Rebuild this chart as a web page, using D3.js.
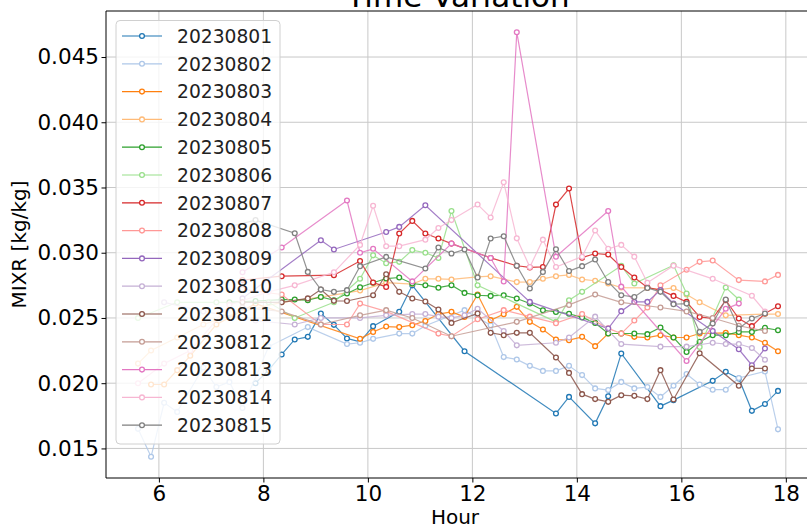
<!DOCTYPE html>
<html><head><meta charset="utf-8">
<script src="https://cdn.jsdelivr.net/npm/d3@7/dist/d3.min.js"></script>
<style>body{margin:0;background:#fff}svg{display:block}text{font-family:"DejaVu Sans",sans-serif}</style>
</head><body><svg id="c" width="807" height="528"></svg>
<script>
const title = "Time Variation";
const xLabel = "Hour";
const yLabel = "MIXR [kg/kg]";
const xTicks = [6, 8, 10, 12, 14, 16, 18];
const yTicks = [0.015, 0.020, 0.025, 0.030, 0.035, 0.040, 0.045];
const dates = ["20230801","20230802","20230803","20230804","20230805","20230806","20230807","20230808","20230809","20230810","20230811","20230812","20230813","20230814","20230815"];
const colors = ["#1f77b4","#aec7e8","#ff7f0e","#ffbb78","#2ca02c","#98df8a","#d62728","#ff9896","#9467bd","#c5b0d5","#8c564b","#c49c94","#e377c2","#f7b6d2","#7f7f7f"];

// [hour, MIXR]
const s20230801 = [[7.85,0.0200],[8.10,0.0210],[8.35,0.0222],[8.60,0.02335],[8.85,0.02355],[9.10,0.02534],[9.35,0.02447],[9.60,0.02343],[9.85,0.02317],[10.10,0.02437],[10.60,0.02547],[10.85,0.0275],[11.85,0.02245],[13.60,0.01768],[13.85,0.01895],[14.35,0.01692],[14.60,0.0190],[14.85,0.02228],[15.60,0.01824],[15.85,0.0187],[16.60,0.02018],[16.85,0.02087],[17.10,0.02036],[17.35,0.01788],[17.60,0.0184],[17.85,0.01941]];
const s20230802 = [[5.60,0.0165],[5.85,0.01436],[6.10,0.0185],[6.35,0.0178],[6.85,0.0212],[7.10,0.0197],[7.35,0.0201],[7.60,0.0181],[8.10,0.0228],[8.85,0.0243],[9.60,0.0230],[9.85,0.0231],[10.10,0.0234],[10.60,0.0238],[10.85,0.0238],[11.10,0.0244],[11.85,0.0256],[12.35,0.02445],[12.60,0.0220],[12.85,0.02182],[13.10,0.02133],[13.35,0.02094],[13.60,0.02094],[13.85,0.02133],[14.10,0.02062],[14.35,0.0196],[14.60,0.01947],[14.85,0.0201],[15.10,0.0196],[15.35,0.0197],[15.60,0.01895],[15.85,0.0198],[16.10,0.0207],[16.35,0.0199],[16.60,0.0195],[16.85,0.0195],[17.10,0.0204],[17.60,0.0209],[17.85,0.01646]];
const s20230803 = [[5.85,0.0199],[6.10,0.0199],[6.35,0.0210],[6.60,0.0221],[7.10,0.0245],[7.85,0.0261],[9.85,0.0234],[10.10,0.02393],[10.35,0.02434],[10.60,0.0243],[10.85,0.02445],[11.10,0.02477],[11.35,0.0253],[11.60,0.02547],[11.85,0.02508],[12.10,0.0268],[12.35,0.02483],[12.60,0.02529],[12.85,0.02585],[13.10,0.0247],[13.35,0.02412],[13.60,0.02335],[13.85,0.0233],[14.10,0.02355],[14.35,0.02284],[14.60,0.02381],[14.85,0.02381],[15.10,0.02355],[15.35,0.0235],[15.60,0.02368],[15.85,0.0235],[16.10,0.0235],[16.35,0.02381],[16.85,0.02386],[17.10,0.02368],[17.35,0.0235],[17.60,0.02309],[17.85,0.02245]];
const s20230804 = [[5.60,0.0215],[5.85,0.0225],[6.35,0.0235],[6.85,0.0245],[7.60,0.0255],[8.35,0.0262],[9.10,0.0266],[9.85,0.0271],[10.35,0.0277],[10.85,0.0276],[11.10,0.0280],[11.35,0.0280],[11.60,0.02795],[12.10,0.02815],[12.35,0.0282],[12.85,0.02775],[13.10,0.02776],[13.35,0.0280],[13.60,0.0282],[13.85,0.0283],[14.10,0.02795],[14.35,0.02785],[14.60,0.02764],[14.85,0.02733],[15.35,0.0273],[15.60,0.02718],[15.85,0.0273],[16.10,0.0268],[16.35,0.0262],[16.85,0.0252],[17.60,0.0253],[17.85,0.0253]];
const s20230805 = [[7.35,0.0262],[7.85,0.0263],[8.35,0.02641],[8.60,0.02641],[8.85,0.02636],[9.10,0.02661],[9.35,0.02636],[9.60,0.02687],[9.85,0.02735],[10.10,0.0277],[10.35,0.02802],[10.60,0.0281],[10.85,0.02764],[11.10,0.02751],[11.35,0.02732],[11.60,0.02751],[11.85,0.02692],[12.10,0.02674],[12.35,0.02669],[12.60,0.02674],[12.85,0.02649],[13.10,0.02611],[13.35,0.02559],[13.60,0.02546],[13.85,0.02532],[14.10,0.02504],[14.35,0.02462],[14.60,0.02381],[14.85,0.02381],[15.10,0.02381],[15.35,0.02376],[15.60,0.02427],[15.85,0.0235],[16.10,0.0224],[16.35,0.02317],[16.60,0.02368],[16.85,0.02368],[17.10,0.02393],[17.35,0.02393],[17.60,0.02424],[17.85,0.02406]];
const s20230806 = [[5.60,0.0250],[6.35,0.0262],[7.10,0.0262],[8.10,0.0262],[8.60,0.0250],[9.35,0.0262],[9.85,0.0280],[10.10,0.0298],[10.35,0.0292],[10.60,0.0293],[10.85,0.0302],[11.10,0.0300],[11.35,0.0296],[11.60,0.0332],[12.10,0.0275],[13.60,0.0247],[13.85,0.02636],[14.10,0.0270],[14.85,0.0290],[15.10,0.02764],[15.85,0.02904],[16.10,0.02687],[16.35,0.02278],[16.85,0.02733],[17.10,0.02641]];
const s20230807 = [[7.60,0.0279],[8.35,0.0282],[9.35,0.02828],[9.85,0.02937],[10.10,0.02772],[10.35,0.02738],[10.60,0.03147],[10.85,0.03244],[11.10,0.03147],[11.35,0.03109],[11.60,0.0307],[12.35,0.0296],[12.85,0.0290],[13.10,0.02887],[13.35,0.02891],[13.60,0.03369],[13.85,0.03492],[14.10,0.02962],[14.35,0.02994],[14.60,0.02986],[14.85,0.02891],[15.10,0.0281],[15.35,0.02733],[15.60,0.02713],[15.85,0.02669],[16.10,0.02623],[16.35,0.02508],[16.60,0.02496],[16.85,0.02636],[17.10,0.02496],[17.35,0.02437],[17.60,0.02534],[17.85,0.0259]];
const s20230808 = [[7.60,0.0272],[8.35,0.0268],[9.10,0.0245],[9.60,0.0245],[9.85,0.0261],[10.35,0.0255],[11.35,0.0238],[11.60,0.0236],[12.10,0.0249],[12.60,0.0256],[13.10,0.0251],[13.60,0.0246],[14.10,0.0253],[14.60,0.0242],[14.85,0.0238],[15.10,0.0248],[15.35,0.0258],[15.60,0.0275],[16.10,0.0287],[16.35,0.0293],[16.60,0.0294],[17.10,0.0279],[17.60,0.0278],[17.85,0.0283]];
const s20230809 = [[7.60,0.0265],[9.10,0.03096],[9.35,0.03025],[10.35,0.03159],[10.60,0.03198],[11.10,0.03364],[13.10,0.02623],[14.60,0.02419],[14.85,0.02552],[15.10,0.02623],[15.35,0.02623],[15.60,0.02713],[15.85,0.0261],[16.60,0.0240],[17.10,0.0226],[17.35,0.02138],[17.60,0.02266]];
const s20230810 = [[6.10,0.0262],[6.85,0.0255],[7.85,0.0248],[8.60,0.0245],[9.10,0.0250],[9.85,0.0250],[10.35,0.0252],[10.85,0.0253],[11.10,0.0253],[11.35,0.0251],[11.60,0.0250],[11.85,0.0252],[12.10,0.0257],[12.60,0.0240],[12.85,0.0229],[13.60,0.0231],[13.85,0.0235],[14.35,0.0251],[14.85,0.0230],[15.60,0.0228],[16.10,0.0228],[16.60,0.0231],[16.85,0.0230],[17.10,0.0230],[17.35,0.0227],[17.60,0.0218]];
const s20230811 = [[7.60,0.0262],[8.35,0.0262],[8.85,0.0265],[9.10,0.02718],[9.35,0.02631],[9.60,0.0263],[10.10,0.02674],[10.35,0.02835],[10.60,0.0270],[10.85,0.02649],[11.10,0.02626],[11.35,0.02565],[11.60,0.02462],[12.10,0.02534],[12.35,0.02386],[12.60,0.02368],[12.85,0.02386],[13.10,0.02386],[13.60,0.02197],[13.85,0.02079],[14.10,0.01916],[14.35,0.01878],[14.60,0.01857],[14.85,0.01908],[15.10,0.01903],[15.35,0.01878],[15.60,0.0210],[15.85,0.01875],[16.35,0.0223],[17.10,0.0198],[17.35,0.02113],[17.60,0.02113]];
const s20230812 = [[7.60,0.0258],[8.35,0.0255],[9.10,0.0245],[9.85,0.0252],[10.35,0.0256],[10.85,0.0250],[11.60,0.0236],[12.85,0.0247],[13.85,0.0260],[14.35,0.0268],[14.85,0.0262],[15.60,0.0258],[16.10,0.0255],[16.60,0.0250],[17.10,0.0244],[17.60,0.0240]];
const s20230813 = [[7.60,0.0285],[8.35,0.0304],[9.60,0.0340],[9.85,0.0300],[10.10,0.0303],[10.85,0.0278],[11.60,0.0307],[12.35,0.0296],[12.60,0.0278],[12.85,0.0469],[13.60,0.0297],[14.60,0.0332],[14.85,0.0274],[16.10,0.0217],[16.85,0.0257],[17.10,0.0261]];
const s20230814 = [[5.60,0.0200],[6.10,0.0215],[6.60,0.0225],[7.35,0.0260],[8.10,0.0270],[8.60,0.0275],[9.35,0.0285],[9.85,0.0306],[10.10,0.0336],[10.35,0.0305],[10.60,0.0305],[11.10,0.0310],[11.35,0.0319],[11.60,0.0325],[12.10,0.0337],[12.35,0.0327],[12.60,0.0354],[12.85,0.0311],[13.10,0.0289],[13.35,0.0310],[13.60,0.0289],[14.10,0.0297],[14.35,0.0317],[14.60,0.0303],[14.85,0.0306],[15.10,0.0297],[15.35,0.0277],[15.85,0.0290],[16.60,0.0280],[17.35,0.0267],[17.60,0.0255]];
const s20230815 = [[7.35,0.0320],[7.85,0.0325],[8.60,0.03149],[8.85,0.02853],[9.10,0.02718],[9.35,0.0270],[9.60,0.02713],[9.85,0.02897],[10.35,0.02968],[11.10,0.02879],[11.35,0.0304],[11.60,0.02994],[11.85,0.03025],[12.10,0.0281],[12.35,0.03109],[12.60,0.03126],[12.85,0.0290],[13.10,0.02726],[13.35,0.02853],[13.60,0.03027],[13.85,0.0286],[14.10,0.02897],[14.35,0.02948],[14.60,0.02776],[14.85,0.02674],[15.10,0.02661],[15.35,0.0273],[15.60,0.0270],[15.85,0.02605],[16.10,0.0261],[16.35,0.02393],[16.60,0.02458],[16.85,0.02641],[17.10,0.02419],[17.35,0.02496],[17.60,0.02534]];

const seriesData = [s20230801,s20230802,s20230803,s20230804,s20230805,s20230806,s20230807,s20230808,s20230809,s20230810,s20230811,s20230812,s20230813,s20230814,s20230815];

const svg = d3.select("#c");
const m = {l:106, t:11, r:810, b:478};
const all = seriesData.flat();
const xe = d3.extent(all, d => d[0]), ye = d3.extent(all, d => d[1]);
const xm = (xe[1]-xe[0])*0.05, ym = (ye[1]-ye[0])*0.05;
const x = d3.scaleLinear().domain([xe[0]-xm, xe[1]+xm]).range([m.l, m.r]);
const y = d3.scaleLinear().domain([ye[0]-ym, ye[1]+ym]).range([m.b, m.t]);

// grid
const g = svg.append("g");
g.selectAll(".gx").data(xTicks).join("line").attr("x1", d=>x(d)).attr("x2", d=>x(d)).attr("y1", m.t).attr("y2", m.b).attr("stroke", "#c8c8c8").attr("stroke-width", 1);
g.selectAll(".gy").data(yTicks).join("line").attr("y1", d=>y(d)).attr("y2", d=>y(d)).attr("x1", m.l).attr("x2", m.r).attr("stroke", "#c8c8c8").attr("stroke-width", 1);

// series
const line = d3.line().x(d=>x(d[0])).y(d=>y(d[1]));
seriesData.forEach((s, i) => {
  const sg = svg.append("g");
  sg.append("path").datum(s).attr("d", line).attr("fill", "none").attr("stroke", colors[i]).attr("stroke-width", 1.2).attr("stroke-opacity", 0.85);
  sg.selectAll("circle").data(s).join("circle").attr("cx", d=>x(d[0])).attr("cy", d=>y(d[1])).attr("r", 2.4)
    .attr("fill", "#fff").attr("stroke", colors[i]).attr("stroke-width", 1.3);
});

// axes
const xa = svg.append("g").attr("transform", `translate(0,${m.b})`).call(d3.axisBottom(x).tickValues(xTicks).tickSize(4.5).tickPadding(3.5).tickFormat(d3.format("d")));
const ya = svg.append("g").attr("transform", `translate(${m.l},0)`).call(d3.axisLeft(y).tickValues(yTicks).tickSize(4.5).tickPadding(2.5).tickFormat(d3.format(".3f")));
[xa, ya].forEach(a => {
  a.select(".domain").remove();
  a.selectAll("text").attr("font-size", "21.5px").attr("fill", "#000").attr("font-family", "DejaVu Sans");
  a.selectAll("line").attr("stroke", "#000").attr("stroke-width", 1);
});
svg.append("line").attr("x1", m.l).attr("x2", m.l).attr("y1", m.t).attr("y2", m.b).attr("stroke", "#000").attr("stroke-width", 1);
svg.append("line").attr("x1", m.l).attr("x2", m.r).attr("y1", m.b).attr("y2", m.b).attr("stroke", "#000").attr("stroke-width", 1);
svg.append("line").attr("x1", m.l).attr("x2", m.r).attr("y1", m.t).attr("y2", m.t).attr("stroke", "#000").attr("stroke-width", 1);
svg.append("line").attr("x1", m.r).attr("x2", m.r).attr("y1", m.t).attr("y2", m.b).attr("stroke", "#000").attr("stroke-width", 1);

// labels
svg.append("text").attr("x", (m.l+m.r)/2 - 3).attr("y", 524).attr("text-anchor", "middle").attr("font-size", "20px").text(xLabel);
svg.append("text").attr("transform", `translate(26,${(m.t+m.b)/2}) rotate(-90)`).attr("text-anchor", "middle").attr("font-size", "20px").text(yLabel);
svg.append("text").attr("x", (m.l+m.r)/2).attr("y", 7).attr("text-anchor", "middle").attr("font-size", "31px").text(title);

// legend
const lg = svg.append("g");
lg.append("rect").attr("x", 116).attr("y", 20.5).attr("width", 164).attr("height", 423.5).attr("rx", 4)
  .attr("fill", "#fff").attr("fill-opacity", 0.8).attr("stroke", "#d0d0d0").attr("stroke-width", 1);
dates.forEach((d, i) => {
  const cy = 36 + i*27.8;
  lg.append("line").attr("x1", 122).attr("x2", 162).attr("y1", cy).attr("y2", cy).attr("stroke", colors[i]).attr("stroke-width", 1.2);
  lg.append("circle").attr("cx", 142).attr("cy", cy).attr("r", 2.4).attr("fill", "#fff").attr("stroke", colors[i]).attr("stroke-width", 1.3);
  lg.append("text").attr("x", 177).attr("y", cy + 6.8).attr("font-size", "18.7px").attr("fill", "#222").text(d);
});
</script></body></html>
